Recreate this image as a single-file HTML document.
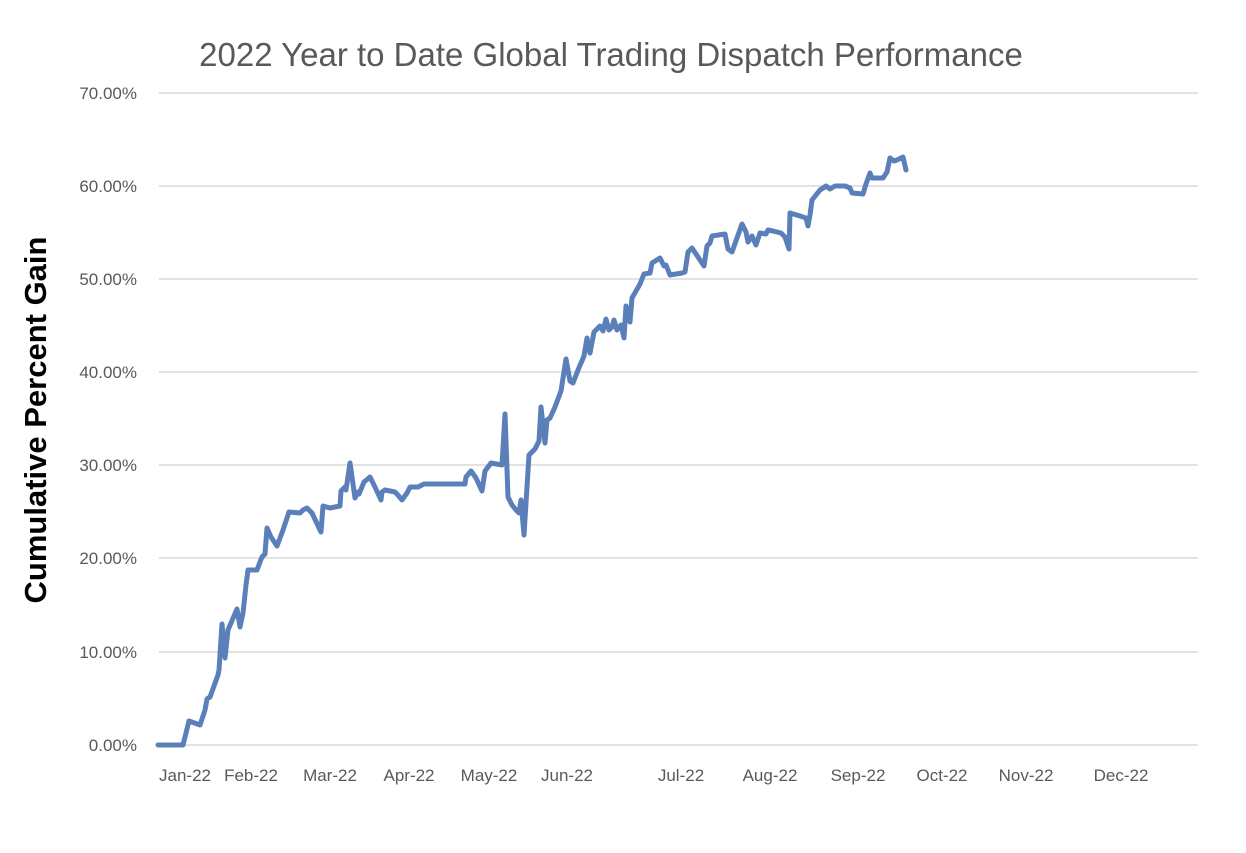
<!DOCTYPE html>
<html><head><meta charset="utf-8"><style>
body{margin:0;background:#fff;}
svg text{font-family:"Liberation Sans",sans-serif;}
</style></head><body>
<svg width="1246" height="848" viewBox="0 0 1246 848" xmlns="http://www.w3.org/2000/svg">
<rect width="1246" height="848" fill="#fff"/>
<text x="611" y="66" text-anchor="middle" font-size="33" fill="#595959">2022 Year to Date Global Trading Dispatch Performance</text>
<g stroke="#d9d9d9" stroke-width="1.5">
<line x1="159" x2="1198" y1="93" y2="93"/><line x1="159" x2="1198" y1="186" y2="186"/>
<line x1="159" x2="1198" y1="279" y2="279"/><line x1="159" x2="1198" y1="372" y2="372"/>
<line x1="159" x2="1198" y1="465" y2="465"/><line x1="159" x2="1198" y1="558" y2="558"/>
<line x1="159" x2="1198" y1="652" y2="652"/><line x1="159" x2="1198" y1="745" y2="745"/>
</g>
<g font-size="17" fill="#595959" text-anchor="end">
<text x="137" y="99">70.00%</text><text x="137" y="192">60.00%</text><text x="137" y="285">50.00%</text>
<text x="137" y="378">40.00%</text><text x="137" y="471">30.00%</text><text x="137" y="564">20.00%</text>
<text x="137" y="658">10.00%</text><text x="137" y="751">0.00%</text>
</g>
<g font-size="17" fill="#595959" text-anchor="middle">
<text x="185" y="781">Jan-22</text><text x="251" y="781">Feb-22</text><text x="330" y="781">Mar-22</text>
<text x="409" y="781">Apr-22</text><text x="489" y="781">May-22</text><text x="567" y="781">Jun-22</text>
<text x="681" y="781">Jul-22</text><text x="770" y="781">Aug-22</text><text x="858" y="781">Sep-22</text>
<text x="942" y="781">Oct-22</text><text x="1026" y="781">Nov-22</text><text x="1121" y="781">Dec-22</text>
</g>
<text transform="translate(46,420) rotate(-90)" text-anchor="middle" font-size="31" font-weight="bold" fill="#000">Cumulative Percent Gain</text>
<polyline fill="none" stroke="#5b80b9" stroke-width="5" stroke-linejoin="round" stroke-linecap="round" points="158,745 183,745 189,721 200,725 205,710 207,699 210,697 218,675 219,670 222,624 225,658 228,630 237,609 240,627 243,613 246,585 248,570 250,570 257,570 260,562 262,557 265,554 267,528 271,537 277,546 283,530 289,512 300,513 303,510 307,508 312,513 320,530 321,532 323,506 330,508 340,506 341,491 345,487 346,490 350,463 355,498 358,492 359,494 364,482 370,477 374,485 381,500 382,492 385,490 395,492 397,494 402,500 407,493 410,487 418,487 424,484 465,484 466,477 471,471 476,478 482,491 485,471 491,463 502,465 505,414 508,497 512,505 516,510 519,513 521,500 524,535 529,455 535,449 539,441 541,407 545,443 547,420 550,418 555,407 561,391 566,359 570,381 573,383 578,370 584,356 587,338 590,353 594,332 600,326 603,331 606,319 609,330 612,327 614,320 617,330 621,325 624,338 626,306 630,322 632,298 640,284 644,274 650,273 652,263 660,258 664,266 666,265 670,275 682,273 685,272 688,252 692,248 696,254 704,266 707,246 710,243 712,236 725,234 728,249 732,252 742,224 746,232 748,242 752,236 756,245 760,233 766,234 768,230 773,231 781,233 785,237 789,249 790,213 800,216 803,217 806,218 808,226 810,215 812,200 820,190 826,186 830,189 835,186 845,186 850,188 852,193 863,194 866,184 870,173 872,178 883,178 887,172 890,158 894,161 897,160 903,157 906,170"/>
</svg>
</body></html>
